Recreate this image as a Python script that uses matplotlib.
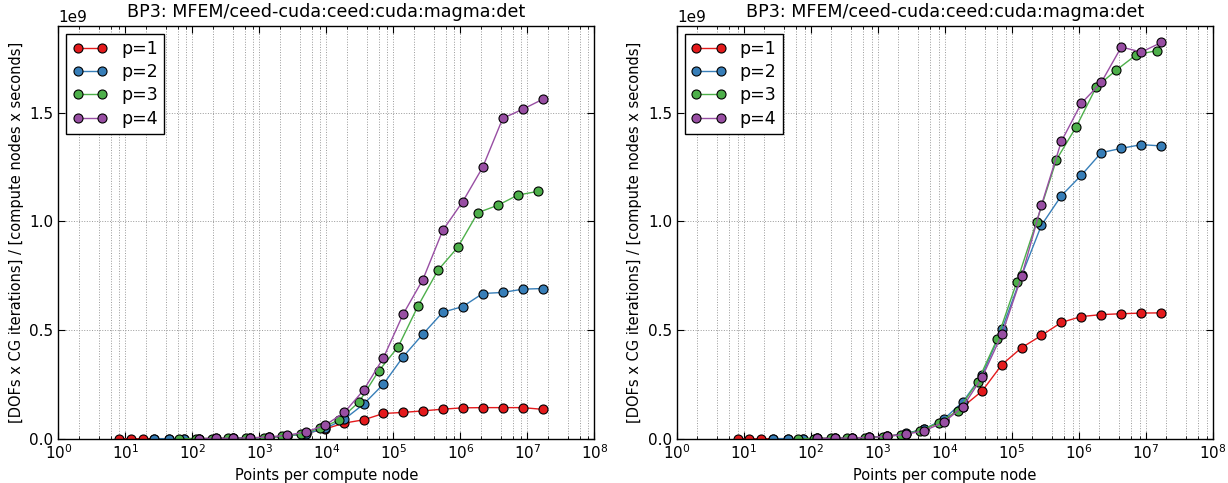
import numpy as np
import matplotlib
matplotlib.use("Agg")
import matplotlib.pyplot as plt
from matplotlib.ticker import LogLocator, NullFormatter

# points per compute node, one list per polynomial order
x_p1 = [8, 12, 18, 27, 45, 75, 125, 225, 405, 729, 1377, 2601, 4913, 9537, 18513,
        35937, 70785, 139425, 274625, 545025, 1081665, 2146689, 4276737, 8520321, 16974593]
x_p2 = [27, 45, 75, 125, 225, 405, 729, 1377, 2601, 4913, 9537, 18513, 35937, 70785,
        139425, 274625, 545025, 1081665, 2146689, 4276737, 8520321, 16974593]
x_p3 = [64, 112, 196, 343, 637, 1183, 2197, 4225, 8125, 15625, 30625, 60025, 117649,
        232897, 461041, 912673, 1815937, 3613153, 7189057, 14340865]
x_p4 = [125, 225, 405, 729, 1377, 2601, 4913, 9537, 18513, 35937, 70785, 139425, 274625,
        545025, 1081665, 2146689, 4276737, 8520321, 16974593]

# throughput in units of 1e9, left panel
left_p1 = [0.00004, 0.00006, 0.0001, 0.00014, 0.00023, 0.0004, 0.0006, 0.0011, 0.002, 0.0037,
           0.007, 0.013, 0.024, 0.045, 0.072, 0.087, 0.116, 0.121, 0.128, 0.136, 0.142,
           0.143, 0.143, 0.143, 0.135]
left_p2 = [0.0001, 0.0002, 0.0003, 0.0005, 0.0009, 0.0017, 0.003, 0.006, 0.012, 0.023, 0.047,
           0.090, 0.159, 0.251, 0.377, 0.481, 0.582, 0.608, 0.668, 0.673, 0.688, 0.691]
left_p3 = [0.0002, 0.0004, 0.0007, 0.0013, 0.0025, 0.005, 0.011, 0.022, 0.048, 0.087, 0.169,
           0.311, 0.423, 0.611, 0.775, 0.881, 1.040, 1.074, 1.121, 1.138]
left_p4 = [0.0006, 0.0012, 0.0022, 0.004, 0.008, 0.016, 0.031, 0.062, 0.121, 0.224, 0.372,
           0.573, 0.732, 0.959, 1.091, 1.249, 1.474, 1.516, 1.562]

# right panel
right_p1 = [0.00007, 0.0001, 0.00016, 0.00025, 0.0004, 0.0007, 0.0012, 0.002, 0.0037, 0.0067,
            0.012, 0.023, 0.044, 0.083, 0.147, 0.220, 0.341, 0.419, 0.475, 0.535, 0.562,
            0.571, 0.575, 0.578, 0.579]
right_p2 = [0.0002, 0.0004, 0.0006, 0.001, 0.0018, 0.0033, 0.006, 0.011, 0.024, 0.045, 0.089,
            0.170, 0.293, 0.504, 0.751, 0.982, 1.118, 1.212, 1.316, 1.336, 1.353, 1.347]
right_p3 = [0.0005, 0.0009, 0.0016, 0.0028, 0.005, 0.009, 0.018, 0.037, 0.074, 0.129, 0.261,
            0.458, 0.720, 0.999, 1.284, 1.436, 1.619, 1.696, 1.767, 1.785]
right_p4 = [0.001, 0.0019, 0.0035, 0.006, 0.011, 0.020, 0.037, 0.075, 0.147, 0.284, 0.481,
            0.748, 1.074, 1.368, 1.543, 1.639, 1.802, 1.779, 1.823]

labels = ["p=1", "p=2", "p=3", "p=4"]
colors = ["#e41a1c", "#377eb8", "#4daf4a", "#984ea3"]
title = "BP3: MFEM/ceed-cuda:ceed:cuda:magma:det"

plt.rcParams["font.family"] = ["DejaVu Sans"]
plt.rcParams["mathtext.default"] = "regular"

fig = plt.figure(figsize=(12.28, 4.83), dpi=100)
ax_l = fig.add_axes([0.0476, 0.0917, 0.4365, 0.855])
ax_r = fig.add_axes([0.5513, 0.0917, 0.4365, 0.855])


def draw_panel(ax, xs, ys):
    for x, y, c, lab in zip(xs, ys, colors, labels):
        ax.plot(x, np.array(y) * 1e9, "-o", color=c, mfc=c, mec="k", mew=0.8,
                ms=6.5, lw=1.0, label=lab)
    ax.set_xscale("log")
    ax.set_xlim(1, 1e8)
    ax.xaxis.set_major_locator(LogLocator(base=10, numticks=20))
    ax.xaxis.set_minor_locator(LogLocator(base=10, subs=[2, 4, 6, 8], numticks=20))
    ax.xaxis.set_minor_formatter(NullFormatter())
    ax.set_ylim(0, 1.9e9)
    ax.set_yticks([0, 0.5e9, 1.0e9, 1.5e9])
    ax.ticklabel_format(axis="y", style="sci", scilimits=(0, 0))
    ax.yaxis.get_offset_text().set_fontsize(11)
    ax.grid(True, axis="x", which="both", ls=":", color="0.6", lw=0.7)
    ax.grid(True, axis="y", which="major", ls=":", color="0.6", lw=0.7)
    ax.tick_params(which="both", direction="in", top=True, right=True, labelsize=11)
    ax.tick_params(which="major", length=5)
    ax.tick_params(which="minor", length=2.5)
    for s in ax.spines.values():
        s.set_linewidth(1.0)
    ax.set_title(title, fontsize=12.6)
    ax.set_xlabel("Points per compute node", fontsize=10.5)
    ax.set_ylabel("[DOFs x CG iterations] / [compute nodes x seconds]", fontsize=10.5)
    leg = ax.legend(loc="upper left", numpoints=2, fontsize=12.5, fancybox=False,
                    handlelength=2.0, handletextpad=0.8, labelspacing=0.3,
                    borderpad=0.37, borderaxespad=0.45, framealpha=1)
    leg.get_frame().set_edgecolor("k")
    leg.get_frame().set_linewidth(1.0)


draw_panel(ax_l, [x_p1, x_p2, x_p3, x_p4], [left_p1, left_p2, left_p3, left_p4])
draw_panel(ax_r, [x_p1, x_p2, x_p3, x_p4], [right_p1, right_p2, right_p3, right_p4])

fig.savefig("out.png", dpi=100)
